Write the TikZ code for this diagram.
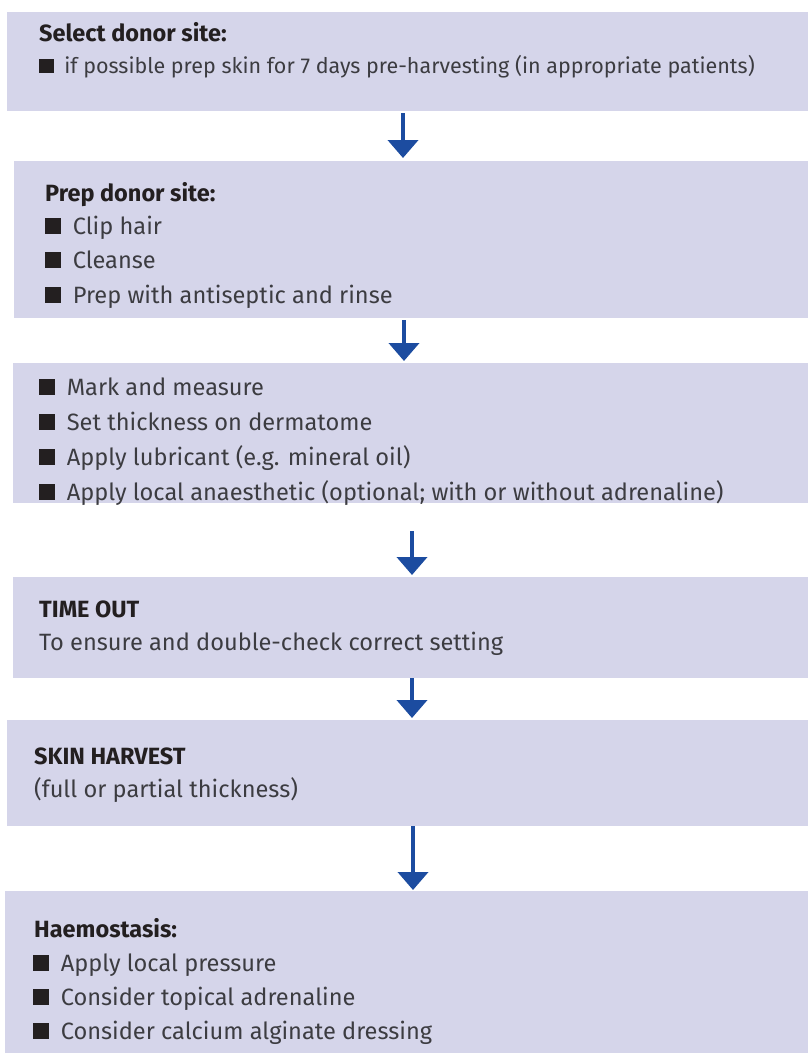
\documentclass[tikz,border=0pt]{standalone}
\usepackage{fontspec}
\setmainfont{Fira Sans}
\usetikzlibrary{arrows.meta}
\definecolor{boxfill}{RGB}{213,213,234}
\definecolor{arrowblue}{RGB}{28,76,160}
\definecolor{txtgray}{RGB}{60,60,65}
\definecolor{titleblack}{RGB}{35,31,32}
\newcommand{\bsq}{\textcolor{titleblack}{\rule[0.0em]{0.67em}{0.67em}}\hspace{0.5em}}
\tikzset{
  box/.style={fill=boxfill, draw=none, inner sep=0pt, anchor=north west},
  txt/.style={anchor=base west, inner sep=0pt, text=txtgray, font=\fontsize{23.6}{28}\selectfont},
  smalltxt/.style={anchor=base west, inner sep=0pt, text=txtgray, font=\fontsize{21.5}{26}\selectfont},
  ttl/.style={anchor=base west, inner sep=0pt, text=titleblack, font=\fontsize{23.5}{28}\selectfont\bfseries},
  arr/.style={draw=arrowblue, line width=4pt, -{Triangle[width=30pt,length=18pt]}, arrowblue}
}
\begin{document}
\begin{tikzpicture}[x=1pt,y=-1pt]
\useasboundingbox (0,0) rectangle (808,1053);
% boxes
\node[box, minimum width=801pt, minimum height=99pt] (b1) at (7,12) {};
\node[box, minimum width=794pt, minimum height=157pt] (b2) at (14,161) {};
\node[box, minimum width=795pt, minimum height=140pt] (b3) at (13,363) {};
\node[box, minimum width=795pt, minimum height=101pt] (b4) at (13,577) {};
\node[box, minimum width=801pt, minimum height=106pt] (b5) at (7,720) {};
\node[box, minimum width=803pt, minimum height=162pt] (b6) at (5,891) {};
% box 1
\node[ttl] (t1) at (39,41) {Select donor site:};
\node[smalltxt] (t1a) at (39,73) {\bsq if possible prep skin for 7 days pre-harvesting (in appropriate patients)};
% box 2
\node[ttl] (t2) at (45,201) {Prep donor site:};
\node[txt] (t2a) at (45,234) {\bsq Clip hair};
\node[txt] (t2b) at (45,268) {\bsq Cleanse};
\node[txt] (t2c) at (45,303) {\bsq Prep with antiseptic and rinse};
% box 3
\node[txt] (t3a) at (39,395) {\bsq Mark and measure};
\node[txt] (t3b) at (39,430) {\bsq Set thickness on dermatome};
\node[txt] (t3c) at (39,465) {\bsq Apply lubricant (e.g. mineral oil)};
\node[txt] (t3d) at (39,500) {\bsq Apply local anaesthetic (optional; with or without adrenaline)};
% box 4
\node[ttl] (t4) at (39,617) {TIME OUT};
\node[txt] (t4a) at (39,650) {To ensure and double-check correct setting};
% box 5
\node[ttl] (t5) at (34,764) {SKIN HARVEST};
\node[txt] (t5a) at (34,797) {(full or partial thickness)};
% box 6
\node[ttl] (t6) at (34,937) {Haemostasis:};
\node[txt] (t6a) at (33,971) {\bsq Apply local pressure};
\node[txt] (t6b) at (33,1005) {\bsq Consider topical adrenaline};
\node[txt] (t6c) at (33,1039) {\bsq Consider calcium alginate dressing};
% arrows
\draw[arr, shorten <=2pt, shorten >=3pt] (b1.south -| 403,0) -- (b2.north -| 403,0);
\draw[arr, shorten <=2pt, shorten >=2pt] (b2.south -| 404,0) -- (b3.north -| 404,0);
\draw[arr, shorten <=28pt, shorten >=2pt] (b3.south -| 412,0) -- (b4.north -| 412,0);
\draw[arr, shorten <=0pt, shorten >=2pt] (b4.south -| 412,0) -- (b5.north -| 412,0);
\draw[arr, shorten <=0pt, shorten >=1pt] (b5.south -| 413,0) -- (b6.north -| 413,0);
\end{tikzpicture}
\end{document}
